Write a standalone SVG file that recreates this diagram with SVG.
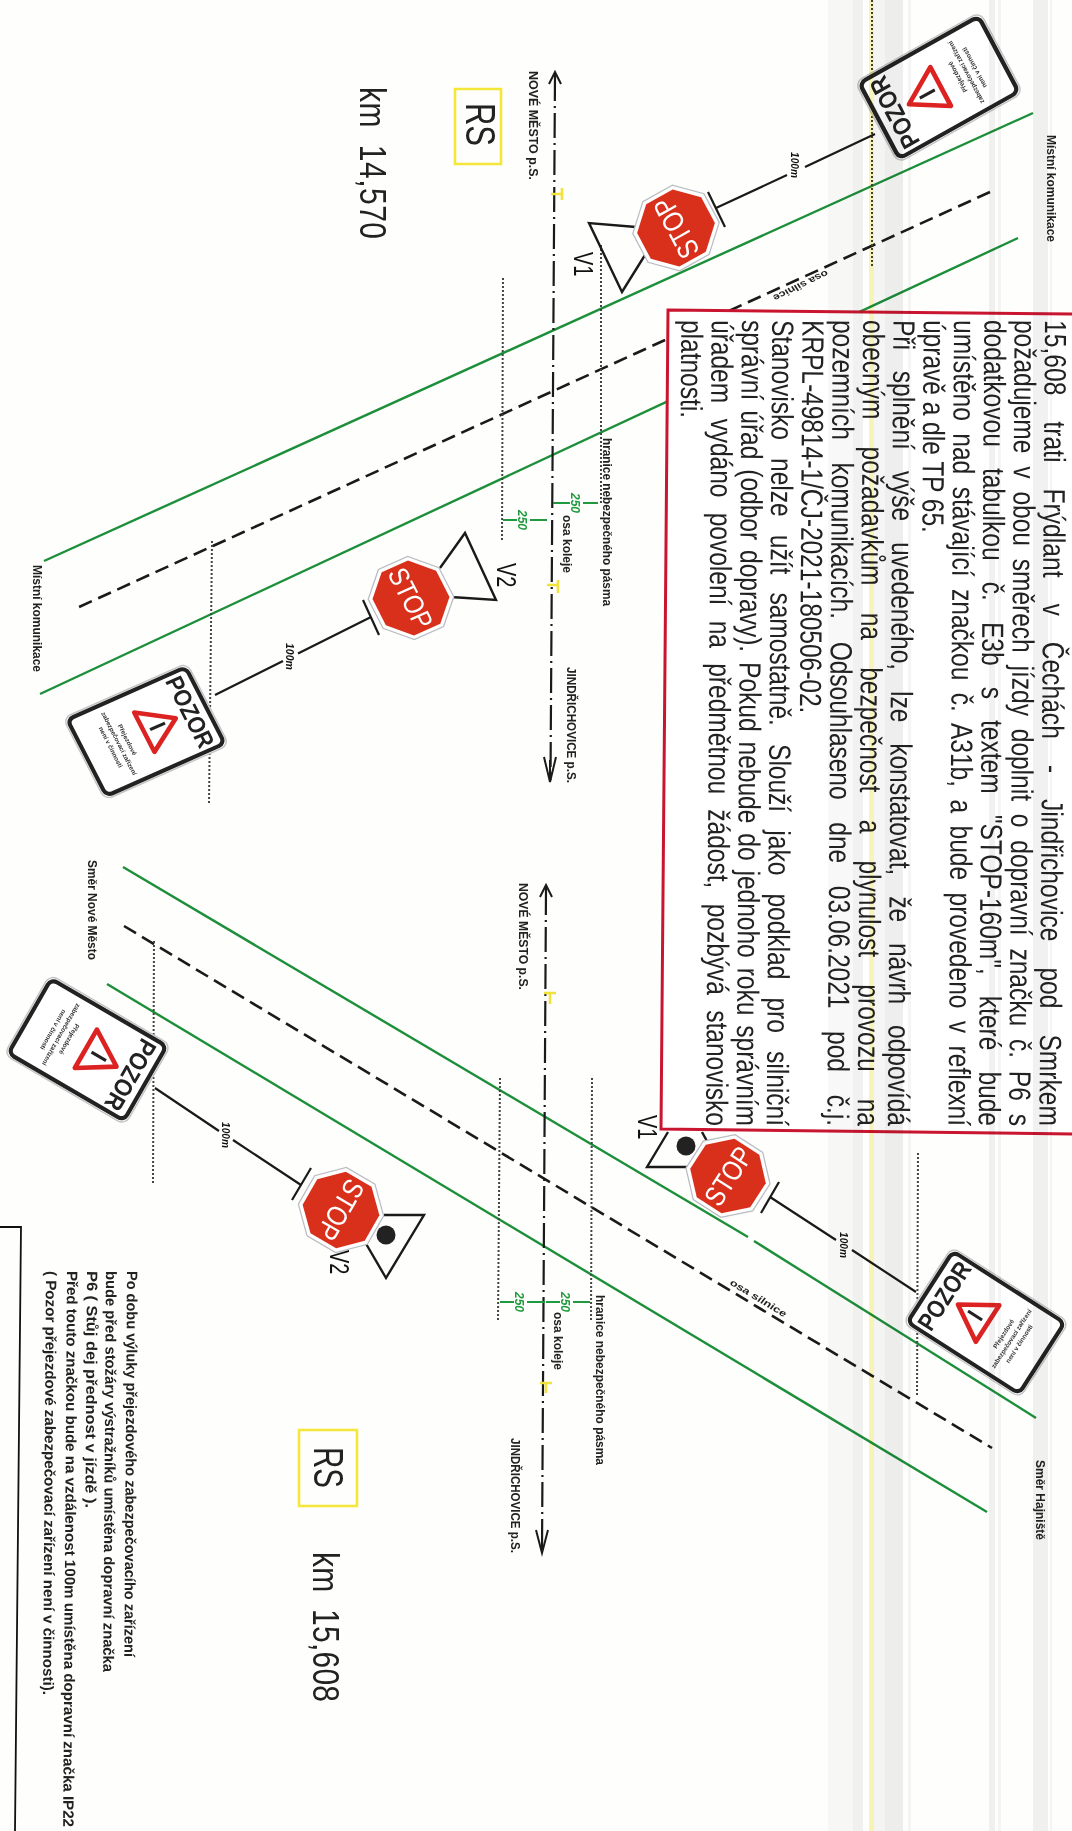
<svg xmlns="http://www.w3.org/2000/svg" width="1072" height="1831" viewBox="0 0 1072 1831">
<style>
text{font-family:"Liberation Sans",Arial,sans-serif;fill:#1a1a1a}
.body{font-size:24.5px;fill:#222}
.lab{font-size:10.5px;font-weight:bold;fill:#222}
.note{font-size:12.5px;font-weight:bold;fill:#222}
.big{font-size:30px;fill:#222}
.v{font-size:20px;fill:#111}
.dim{font-size:12px;font-weight:bold;font-style:italic;fill:#1f9a3e}
.len{font-size:10.5px;font-weight:bold;font-style:italic;fill:#111}
.pz{font-size:27px;font-weight:bold;fill:#222}
.sm{font-size:7px;font-weight:bold;fill:#333}
.st{font-size:36px;fill:#fff}
.green{fill:none;stroke:#1d8f3b;stroke-width:2.4}
.dash{fill:none;stroke:#1a1a1a;stroke-width:2.6;stroke-dasharray:14 7}
.track{fill:none;stroke:#1a1a1a;stroke-width:2.2;stroke-dasharray:25 5 2 5}
.arrow{fill:none;stroke:#1a1a1a;stroke-width:2}
.dot{fill:none;stroke:#444;stroke-width:2;stroke-dasharray:2 2}
.dimline{fill:none;stroke:#1f9a3e;stroke-width:2}
.pole{fill:none;stroke:#1a1a1a;stroke-width:2.2}
.tri{fill:none;stroke:#1a1a1a;stroke-width:2.4}
.ty{fill:none;stroke:#f2e23c;stroke-width:2.6}
.rsbox{fill:none;stroke:#f5e63a;stroke-width:2.6}
.stripe{mix-blend-mode:multiply}
</style>
<defs>
<g id="signBase">
<rect x="0" y="0" width="100" height="150" rx="9" fill="#fff" stroke="#c4c4c4" stroke-width="1.6"/>
<rect x="3.5" y="3.5" width="93" height="143" rx="7" fill="none" stroke="#222" stroke-width="4.5"/>
<path d="M50 39 L74 77 H26 Z" fill="#fff" stroke="#dd2222" stroke-width="5" stroke-linejoin="round"/>
<path d="M50 52 V70" stroke="#222" stroke-width="3.4"/>
</g>
<g id="stopBase">
<polygon points="-20.7,-50 20.7,-50 50,-20.7 50,20.7 20.7,50 -20.7,50 -50,20.7 -50,-20.7" fill="#fff" stroke="#b9bdc2" stroke-width="1.6"/>
<polygon points="-18.6,-45 18.6,-45 45,-18.6 45,18.6 18.6,45 -18.6,45 -45,18.6 -45,-18.6" fill="#d9301c"/>
</g>
</defs>
<rect width="1072" height="1831" fill="#fefefc"/>

<g id="connectors">
<path class="green" d="M1033 113 L44 561"/>
<path class="green" d="M1018 238 L40 694"/>
<path class="dash" d="M990 192 L79 607"/>
<path class="green" d="M123 867 L748 1237 M754 1241 L1036 1418"/>
<path class="green" d="M107 984 L987 1512"/>
<path class="dash" d="M124 926 L992 1448"/>
<path class="track" d="M555 76 L550.5 780"/>
<path class="arrow" d="M549 84 L555 72 L561 84 M555 72 L555 96"/>
<path class="arrow" d="M544 757 L550 782 L556 757 M550 782 L550 760"/>
<path class="track" d="M546 890 L542 1550"/>
<path class="arrow" d="M540 897 L546 885 L552 897 M546 885 L546 905"/>
<path class="arrow" d="M536 1530 L542 1553 L548 1530 M542 1553 L542 1535"/>
<path class="ty" d="M551 194 H562 M562 188 V200"/>
<path class="ty" d="M547 585 H558 M558 580 V593"/>
<path class="ty" d="M544 993 H556 M550 993 V1004"/>
<path class="ty" d="M540 1383 H552 M546 1383 V1393"/>
<path class="dot" d="M601 245 L601 505"/>
<path class="dot" d="M503 278 L502 540"/>
<path class="dot" d="M212 541 L209 803"/>
<path class="dot" d="M872 0 L872 266"/>
<path class="dot" d="M500 1078 L498 1320"/>
<path class="dot" d="M592 1078 L591 1322"/>
<path class="dot" d="M154 941 L153 1183"/>
<path class="dot" d="M918 1153 L917 1397"/>
<path class="dimline" d="M553 503 H570 M583 503 H598"/>
<path class="dimline" d="M503 520 H517 M530 520 H547"/>
<path class="dimline" d="M500 1302 H514 M527 1302 H545"/>
<path class="dimline" d="M546 1302 H560 M573 1302 H590"/>
<path class="pole" d="M716 208 L787 175 M805 167 L875 134"/>
<path class="pole" d="M708 192 L725 227"/>
<path class="pole" d="M371 617 L298 653.5 M283 661 L215 695"/>
<path class="pole" d="M363 600 L379 635"/>
<path class="pole" d="M301 1185 L233 1140 M219 1131 L155 1088"/>
<path class="pole" d="M311 1168 L292 1200"/>
<path class="pole" d="M770 1197 L836 1240 M852 1250 L916 1292"/>
<path class="pole" d="M779 1182 L761 1213"/>
<path d="M0 1227 H21 L15 1831" fill="none" stroke="#111" stroke-width="1.8"/>
</g>

<g id="signal-v1-a"><polyline class="tri" points="636,227 589,223 622,292 645,255"/></g>
<g id="signal-v2-a"><polyline class="tri" points="440,568 465,533 496,600 451,597"/></g>
<g id="signal-v2-b"><polyline class="tri" points="384,1215 424,1215 386,1278 365,1242"/><circle cx="386" cy="1235" r="9.5" fill="#222"/></g>
<g id="signal-v1-b"><polyline class="tri" points="668,1132 647,1167 692,1167"/><path class="tri" d="M702 1132 L708 1143"/><circle cx="686" cy="1146" r="9.5" fill="#222"/></g>

<g id="stop-1" transform="matrix(-.368 -.693 .712 -.399 676 228)"><use href="#stopBase"/><text class="st" x="0" y="13" text-anchor="middle" textLength="82" lengthAdjust="spacingAndGlyphs">STOP</text></g>
<g id="stop-2" transform="matrix(.359 .701 -.707 .314 411 598)"><use href="#stopBase"/><text class="st" x="0" y="13" text-anchor="middle" textLength="82" lengthAdjust="spacingAndGlyphs">STOP</text></g>
<g id="stop-3" transform="matrix(-.393 .684 -.69 -.402 341 1210)"><use href="#stopBase"/><text class="st" x="0" y="13" text-anchor="middle" textLength="82" lengthAdjust="spacingAndGlyphs">STOP</text></g>
<g id="stop-4" transform="matrix(.419 -.65 .667 .428 728 1176)"><use href="#stopBase"/><text class="st" x="0" y="13" text-anchor="middle" textLength="82" lengthAdjust="spacingAndGlyphs">STOP</text></g>

<g id="sign-1" transform="matrix(-.43 -.81 .833 -.467 898 163)"><use href="#signBase"/><text class="pz" x="50" y="31" text-anchor="middle" textLength="84" lengthAdjust="spacingAndGlyphs">POZOR</text><text class="sm" x="50" y="100" text-anchor="middle">Přejezdové</text><text class="sm" x="50" y="110" text-anchor="middle" textLength="76">zabezpečovací zařízení</text><text class="sm" x="50" y="120" text-anchor="middle">není v činnosti</text></g>
<g id="sign-2" transform="matrix(.42 .82 -.827 .367 187 663)"><use href="#signBase"/><text class="pz" x="50" y="31" text-anchor="middle" textLength="84" lengthAdjust="spacingAndGlyphs">POZOR</text><text class="sm" x="50" y="100" text-anchor="middle">Přejezdové</text><text class="sm" x="50" y="110" text-anchor="middle" textLength="76">zabezpečovací zařízení</text><text class="sm" x="50" y="120" text-anchor="middle">není v činnosti</text></g>
<g id="sign-3" transform="matrix(-.46 .80 -.807 -.47 171 1045)"><use href="#signBase"/><text class="pz" x="50" y="31" text-anchor="middle" textLength="84" lengthAdjust="spacingAndGlyphs">POZOR</text><text class="sm" x="50" y="100" text-anchor="middle">Přejezdové</text><text class="sm" x="50" y="110" text-anchor="middle" textLength="76">zabezpečovací zařízení</text><text class="sm" x="50" y="120" text-anchor="middle">není v činnosti</text></g>
<g id="sign-4" transform="matrix(.49 -.76 .78 .5 903 1323)"><use href="#signBase"/><text class="pz" x="50" y="31" text-anchor="middle" textLength="84" lengthAdjust="spacingAndGlyphs">POZOR</text><text class="sm" x="50" y="100" text-anchor="middle">Přejezdové</text><text class="sm" x="50" y="110" text-anchor="middle" textLength="76">zabezpečovací zařízení</text><text class="sm" x="50" y="120" text-anchor="middle">není v činnosti</text></g>

<g id="labels">
<text class="lab" transform="translate(1047,135) rotate(90) scale(1,1.2)" textLength="107" lengthAdjust="spacingAndGlyphs">Místní komunikace</text>
<text class="lab" transform="translate(33,565) rotate(90) scale(1,1.2)" textLength="107" lengthAdjust="spacingAndGlyphs">Místní komunikace</text>
<text class="lab" transform="translate(88,860) rotate(90) scale(1,1.2)" textLength="100" lengthAdjust="spacingAndGlyphs">Směr Nové Město</text>
<text class="lab" transform="translate(1036,1460) rotate(90) scale(1,1.2)" textLength="80" lengthAdjust="spacingAndGlyphs">Směr Hajniště</text>
<text class="lab" transform="translate(529,71) rotate(90) scale(1,1.2)" textLength="109" lengthAdjust="spacingAndGlyphs">NOVÉ MĚSTO p.S.</text>
<text class="lab" transform="translate(519,883) rotate(90) scale(1,1.2)" textLength="107" lengthAdjust="spacingAndGlyphs">NOVÉ MĚSTO p.S.</text>
<text class="lab" transform="translate(567,667) rotate(90) scale(1,1.2)" textLength="116" lengthAdjust="spacingAndGlyphs">JINDŘICHOVICE p.S.</text>
<text class="lab" transform="translate(511,1438) rotate(90) scale(1,1.2)" textLength="115" lengthAdjust="spacingAndGlyphs">JINDŘICHOVICE p.S.</text>
<text class="lab" transform="translate(563,515) rotate(90) scale(1,1.2)" textLength="58" lengthAdjust="spacingAndGlyphs">osa koleje</text>
<text class="lab" transform="translate(554,1312) rotate(90) scale(1,1.2)" textLength="58" lengthAdjust="spacingAndGlyphs">osa koleje</text>
<text class="lab" transform="translate(603,438) rotate(90) scale(1,1.2)" textLength="168" lengthAdjust="spacingAndGlyphs">hranice nebezpečného pásma</text>
<text class="lab" transform="translate(596,1295) rotate(90) scale(1,1.2)" textLength="170" lengthAdjust="spacingAndGlyphs">hranice nebezpečného pásma</text>
<text class="lab" transform="matrix(-.87 .42 -.5 -.75 826 270)" textLength="62" lengthAdjust="spacingAndGlyphs">osa silnice</text>
<text class="lab" transform="matrix(.86 .52 -.55 .72 729 1284)" textLength="64" lengthAdjust="spacingAndGlyphs">osa silnice</text>
<text class="dim" transform="translate(571,493) rotate(90)" textLength="20" lengthAdjust="spacingAndGlyphs">250</text>
<text class="dim" transform="translate(518,510) rotate(90)" textLength="20" lengthAdjust="spacingAndGlyphs">250</text>
<text class="dim" transform="translate(515,1292) rotate(90)" textLength="20" lengthAdjust="spacingAndGlyphs">250</text>
<text class="dim" transform="translate(561,1292) rotate(90)" textLength="20" lengthAdjust="spacingAndGlyphs">250</text>
<text class="len" transform="translate(791,152) rotate(90)" textLength="26" lengthAdjust="spacingAndGlyphs">100m</text>
<text class="len" transform="translate(286,643) rotate(90)" textLength="27" lengthAdjust="spacingAndGlyphs">100m</text>
<text class="len" transform="translate(222,1122) rotate(90)" textLength="26" lengthAdjust="spacingAndGlyphs">100m</text>
<text class="len" transform="translate(840,1232) rotate(90)" textLength="26" lengthAdjust="spacingAndGlyphs">100m</text>
<text class="v" transform="translate(574,252) rotate(90) scale(1,1.35)">V1</text>
<text class="v" transform="translate(497,563) rotate(90) scale(1,1.35)">V2</text>
<text class="v" transform="translate(330,1250) rotate(90) scale(1,1.35)">V2</text>
<text class="v" transform="translate(638,1115) rotate(90) scale(1,1.35)">V1</text>
</g>

<g id="rs-1"><path class="rsbox" d="M455 89 H501 V164 H455 Z"/><text class="big" transform="translate(466,103) rotate(90) scale(1,1.4)" textLength="43" lengthAdjust="spacingAndGlyphs">RS</text></g>
<g id="rs-2"><path class="rsbox" d="M299 1430 H357 V1506 H299 Z"/><text class="big" transform="translate(314,1447) rotate(90) scale(1,1.4)" textLength="41" lengthAdjust="spacingAndGlyphs">RS</text></g>
<g id="km-1"><text class="big" transform="translate(360,87) rotate(90) scale(1,1.25)" word-spacing="8" textLength="152">km 14,570</text></g>
<g id="km-2"><text class="big" transform="translate(313,1552) rotate(90) scale(1,1.25)" word-spacing="8" textLength="150">km 15,608</text></g>

<g id="note">
<text class="note" transform="translate(127,1271) rotate(90.4) scale(1,1.2)" textLength="386" lengthAdjust="spacingAndGlyphs">Po dobu výluky přejezdového zabezpečovacího zařízení</text>
<text class="note" transform="translate(106,1271) rotate(90.4) scale(1,1.2)" textLength="401" lengthAdjust="spacingAndGlyphs">bude před stožáry výstražníků umístěna dopravní značka</text>
<text class="note" transform="translate(87,1271) rotate(90.4) scale(1,1.2)" textLength="237" lengthAdjust="spacingAndGlyphs">P6 ( Stůj dej přednost v jízdě ).</text>
<text class="note" transform="translate(67,1271) rotate(90.4) scale(1,1.2)" textLength="556" lengthAdjust="spacingAndGlyphs">Před touto značkou bude na vzdálenost 100m umístěna dopravní značka IP22</text>
<text class="note" transform="translate(46,1271) rotate(90.4) scale(1,1.2)" textLength="424" lengthAdjust="spacingAndGlyphs">( Pozor přejezdové zabezpečovací zařízení není v činnosti).</text>
</g>

<g id="statement">
<polygon points="668,310 1076,314 1076,1134 661,1129" fill="#fff" stroke="#c9152f" stroke-width="3"/>
<text class="body" transform="translate(1045,320) rotate(90.4) scale(1,1.25)" word-spacing="19" textLength="806">15,608 trati Frýdlant v Čechách - Jindřichovice pod Smrkem</text>
<text class="body" transform="translate(1014.7,320) rotate(90.4) scale(1,1.25)" word-spacing="6.1" textLength="806">požadujeme v obou směrech jízdy doplnit o dopravní značku č. P6 s</text>
<text class="body" transform="translate(984.4,320) rotate(90.4) scale(1,1.25)" word-spacing="14.3" textLength="806">dodatkovou tabulkou č. E3b s textem "STOP-160m", které bude</text>
<text class="body" transform="translate(954.1,320) rotate(90.4) scale(1,1.25)" word-spacing="5.6" textLength="806">umístěno nad stávající značkou č. A31b, a bude provedeno v reflexní</text>
<text class="body" transform="translate(923.8,320) rotate(90.4) scale(1,1.25)">úpravě a dle TP 65.</text>
<text class="body" transform="translate(893.5,320) rotate(90.4) scale(1,1.25)" word-spacing="14" textLength="806">Při splnění výše uvedeného, lze konstatovat, že návrh odpovídá</text>
<text class="body" transform="translate(863.2,320) rotate(90.4) scale(1,1.25)" word-spacing="20.4" textLength="806">obecným požadavkům na bezpečnost a plynulost provozu na</text>
<text class="body" transform="translate(832.9,320) rotate(90.4) scale(1,1.25)" word-spacing="15.9" textLength="806">pozemních komunikacích. Odsouhlaseno dne 03.06.2021 pod č.j.</text>
<text class="body" transform="translate(802.6,320) rotate(90.4) scale(1,1.25)">KRPL-49814-1/ČJ-2021-180506-02.</text>
<text class="body" transform="translate(772.3,320) rotate(90.4) scale(1,1.25)" word-spacing="11.4" textLength="806">Stanovisko nelze užít samostatně. Slouží jako podklad pro silniční</text>
<text class="body" transform="translate(742,320) rotate(90.4) scale(1,1.25)" word-spacing="3.2" textLength="806">správní úřad (odbor dopravy). Pokud nebude do jednoho roku správním</text>
<text class="body" transform="translate(711.7,320) rotate(90.4) scale(1,1.25)" word-spacing="8.5" textLength="806">úřadem vydáno povolení na předmětnou žádost, pozbývá stanovisko</text>
<text class="body" transform="translate(681.4,320) rotate(90.4) scale(1,1.25)">platnosti.</text>
</g>

<g id="scan-stripes" class="stripe">
<rect x="828" y="0" width="25" height="1831" fill="#f8f8f8"/>
<rect x="853" y="0" width="10" height="1831" fill="#f1f1f1"/>
<rect x="869" y="0" width="5" height="1831" fill="#f8f3b8"/>
<rect x="874" y="0" width="11" height="1831" fill="#f5f5f5"/>
<rect x="885" y="0" width="18" height="1831" fill="#eeeeee"/>
<rect x="908" y="0" width="3" height="1831" fill="#f5f5f5"/>
<rect x="989" y="0" width="6" height="1831" fill="#f1f1f1"/>
<rect x="998" y="0" width="3" height="1831" fill="#f5f5f5"/>
<rect x="1033" y="0" width="15" height="1831" fill="#f1f1f1"/>
<rect x="1050" y="0" width="2" height="1831" fill="#f5f5f5"/>
</g>
</svg>
